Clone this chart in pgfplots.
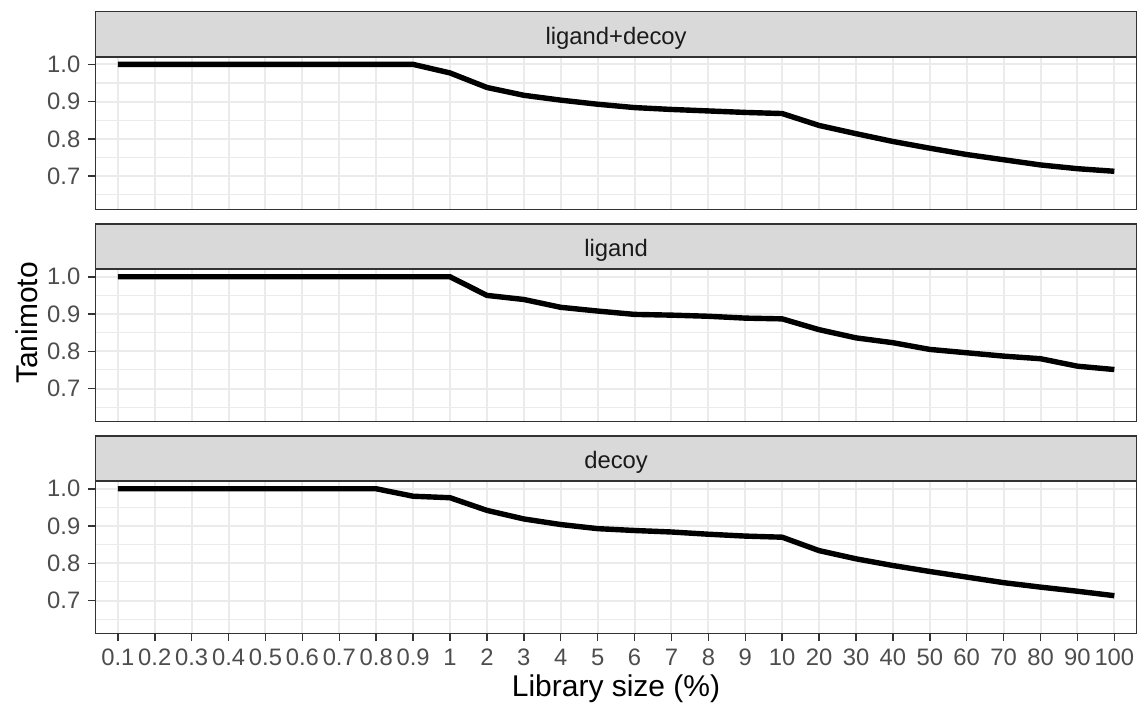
\documentclass[border=0pt]{standalone}
\usepackage{pgfplots}
\pgfplotsset{compat=1.18}
\usepackage{pgfplotstable}
\usepackage{fontspec}
\setmainfont{Liberation Sans}
\definecolor{gridc}{HTML}{EBEBEB}
\definecolor{borderc}{HTML}{333333}
\definecolor{stripc}{HTML}{D9D9D9}
\definecolor{tickc}{HTML}{4D4D4D}
\definecolor{stript}{HTML}{1A1A1A}

\pgfplotstableread{
i ld l d
0 1.000 1.000 1.000
1 1.000 1.000 1.000
2 1.000 1.000 1.000
3 1.000 1.000 1.000
4 1.000 1.000 1.000
5 1.000 1.000 1.000
6 1.000 1.000 1.000
7 1.000 1.000 1.000
8 1.000 1.000 0.980
9 0.977 1.000 0.976
10 0.938 0.950 0.942
11 0.917 0.939 0.919
12 0.904 0.918 0.904
13 0.893 0.908 0.893
14 0.884 0.899 0.888
15 0.879 0.897 0.884
16 0.875 0.894 0.878
17 0.871 0.889 0.873
18 0.868 0.887 0.870
19 0.836 0.858 0.834
20 0.814 0.836 0.812
21 0.793 0.823 0.794
22 0.775 0.805 0.778
23 0.758 0.796 0.763
24 0.744 0.787 0.748
25 0.730 0.780 0.736
26 0.720 0.760 0.725
27 0.713 0.751 0.713
}\datatable

\pgfplotsset{
  panel/.style={
    scale only axis, width=520.4pt, height=76pt,
    anchor=south west,
    xmin=-0.6, xmax=27.6, ymin=0.611, ymax=1.019,
    axis line style={borderc, line width=0.75pt},
    xtick={0,...,27},
    ytick={0.7,0.8,0.9,1.0},
    minor ytick={0.65,0.75,0.85,0.95},
    xmajorgrids, ymajorgrids, yminorgrids,
    major grid style={gridc, line width=1pt},
    minor grid style={gridc, line width=0.55pt},
    tick style={borderc, line width=0.75pt},
    major tick length=3.7pt, minor tick length=0pt,
    tick align=outside,
    xtick pos=bottom, ytick pos=left,
    /pgf/number format/assume math mode=true,
    yticklabel style={font=\fontsize{11.9}{13}\selectfont, text=tickc, anchor=east, inner sep=0pt, xshift=-3.8pt,
      /pgf/number format/.cd, fixed, fixed zerofill, precision=1},
    xticklabel style={font=\fontsize{11.9}{13}\selectfont, text=tickc},
    every axis title/.style={at={(0.5,1)}, anchor=south, fill=stripc, draw=borderc, line width=0.75pt,
      minimum width=520.4pt, minimum height=22.5pt, inner sep=0pt, text height=10.4pt, text depth=0pt,
      text=stript, font=\fontsize{11.9}{13}\selectfont},
  },
  dataline/.style={black, line width=2.7pt, line join=round, line cap=butt},
}

\begin{document}
\begin{tikzpicture}
\useasboundingbox (0,0) rectangle (569.5pt,351pt);

\begin{axis}[panel, at={(47.85pt,246.35pt)}, title={ligand+decoy}, xticklabels={}, x tick style={draw=none}]
\addplot[dataline] table[x=i, y=ld] {\datatable};
\end{axis}

\begin{axis}[panel, at={(47.85pt,140.15pt)}, title={ligand}, xticklabels={}, x tick style={draw=none}]
\addplot[dataline] table[x=i, y=l] {\datatable};
\end{axis}

\begin{axis}[panel, at={(47.85pt,34.15pt)}, title={decoy},
  xticklabels={0.1,0.2,0.3,0.4,0.5,0.6,0.7,0.8,0.9,1,2,3,4,5,6,7,8,9,10,20,30,40,50,60,70,80,90,100},
  xticklabel style={anchor=north, inner sep=0pt, yshift=-3.9pt}]
\addplot[dataline] table[x=i, y=d] {\datatable};
\end{axis}

\node[rotate=90, anchor=center, font=\fontsize{15}{17}\selectfont] at (13.5pt,189.5pt) {Tanimoto};
\node[anchor=base, font=\fontsize{15}{17}\selectfont] at (308pt,2.7pt) {Library size (\%)};
\end{tikzpicture}
\end{document}
